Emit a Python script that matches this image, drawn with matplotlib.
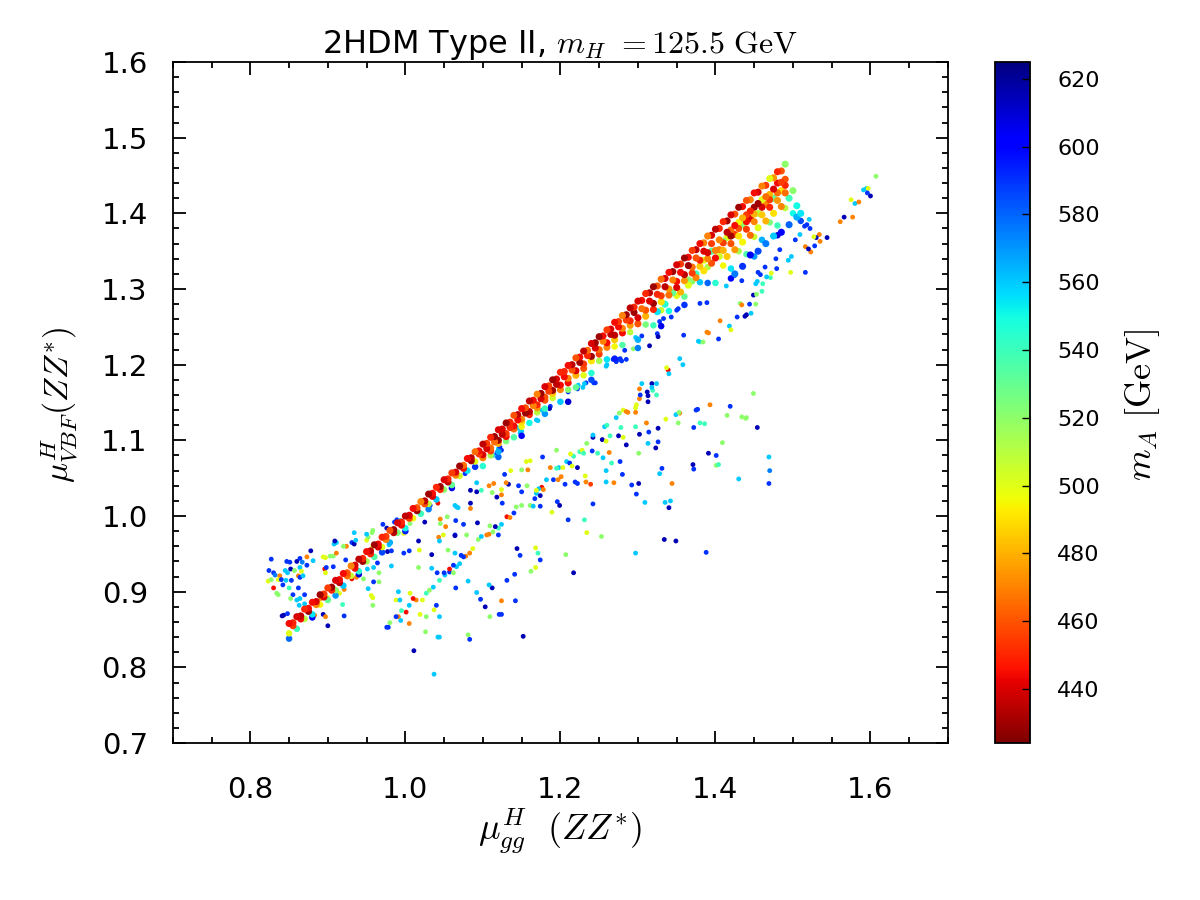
import numpy as np
import matplotlib
matplotlib.use("Agg")
import matplotlib.pyplot as plt
from matplotlib.ticker import MultipleLocator

plt.rcParams['mathtext.fontset'] = 'cm'
plt.rcParams['font.family'] = ['DejaVu Sans']

# ======================================
# 数据：主带（上沿红色 -> 下方蓝色），按行读图
# ======================================
rowA_x = [0.85, 0.86, 0.87, 0.88, 0.89, 0.90, 0.91, 0.92, 0.93, 0.94,
          0.95, 0.96, 0.97, 0.98, 0.99, 1.00, 1.01, 1.02, 1.03, 1.04,
          1.05, 1.06, 1.07, 1.08, 1.09, 1.10, 1.11, 1.12, 1.13, 1.14,
          1.15, 1.16, 1.17, 1.18, 1.19, 1.20, 1.21, 1.22, 1.23, 1.24,
          1.25, 1.26, 1.27, 1.28, 1.29, 1.30, 1.31, 1.32, 1.33, 1.34,
          1.35, 1.36, 1.37, 1.38, 1.39, 1.40, 1.41, 1.42, 1.43, 1.44,
          1.45, 1.46, 1.47, 1.48, 1.49]
rowA_y = [0.858, 0.867, 0.877, 0.886, 0.896, 0.905, 0.915, 0.924, 0.934, 0.943,
          0.953, 0.962, 0.972, 0.981, 0.991, 1.000, 1.010, 1.019, 1.029, 1.038,
          1.048, 1.057, 1.066, 1.076, 1.085, 1.095, 1.104, 1.114, 1.123, 1.133,
          1.142, 1.152, 1.161, 1.171, 1.180, 1.190, 1.199, 1.209, 1.218, 1.228,
          1.237, 1.246, 1.256, 1.265, 1.275, 1.284, 1.294, 1.303, 1.313, 1.322,
          1.332, 1.341, 1.351, 1.360, 1.370, 1.379, 1.389, 1.398, 1.408, 1.417,
          1.427, 1.436, 1.446, 1.455, 1.465]
rowA_m = [445, 440, 450, 445, 430, 455, 440, 445, 470, 435,
          445, 430, 450, 460, 440, 435, 445, 470, 430, 450,
          440, 455, 430, 445, 465, 435, 450, 440, 430, 460,
          445, 435, 470, 440, 430, 450, 445, 460, 435, 440,
          430, 455, 445, 470, 435, 440, 450, 430, 465, 445,
          440, 430, 455, 445, 470, 435, 450, 440, 430, 460,
          445, 470, 500, 450, 520]

rowA2_x = [0.855, 0.865, 0.875, 0.885, 0.895, 0.905, 0.915, 0.925, 0.935, 0.945,
           0.955, 0.965, 0.975, 0.985, 0.995, 1.005, 1.015, 1.025, 1.035, 1.045,
           1.055, 1.065, 1.075, 1.085, 1.095, 1.105, 1.115, 1.125, 1.135, 1.145,
           1.155, 1.165, 1.175, 1.185, 1.195, 1.205, 1.215, 1.225, 1.235, 1.245,
           1.255, 1.265, 1.275, 1.285, 1.295, 1.305, 1.315, 1.325, 1.335, 1.345,
           1.355, 1.365, 1.375, 1.385, 1.395, 1.405, 1.415, 1.425, 1.435, 1.445,
           1.455, 1.465, 1.475, 1.485]
rowA2_y = [0.859, 0.868, 0.878, 0.887, 0.897, 0.906, 0.916, 0.925, 0.935, 0.944,
           0.954, 0.963, 0.973, 0.982, 0.992, 1.001, 1.011, 1.020, 1.030, 1.039,
           1.049, 1.058, 1.067, 1.077, 1.086, 1.096, 1.105, 1.115, 1.124, 1.134,
           1.143, 1.153, 1.162, 1.172, 1.181, 1.191, 1.200, 1.210, 1.219, 1.229,
           1.238, 1.247, 1.257, 1.266, 1.276, 1.285, 1.295, 1.304, 1.314, 1.323,
           1.333, 1.342, 1.352, 1.361, 1.371, 1.380, 1.390, 1.399, 1.409, 1.418,
           1.428, 1.437, 1.447, 1.456]
rowA2_m = [450, 435, 445, 440, 455, 430, 445, 460, 440, 450,
           435, 445, 455, 430, 450, 440, 460, 435, 445, 430,
           450, 440, 465, 435, 445, 455, 430, 440, 450, 435,
           460, 445, 430, 455, 440, 450, 435, 445, 465, 430,
           445, 440, 455, 430, 450, 445, 435, 460, 440, 430,
           455, 445, 435, 470, 440, 450, 430, 460, 445, 470,
           440, 455, 475, 460]

rowB_x = [0.855, 0.865, 0.875, 0.885, 0.895, 0.905, 0.915, 0.925, 0.935, 0.945,
          0.955, 0.965, 0.975, 0.985, 0.995, 1.005, 1.015, 1.025, 1.035, 1.045,
          1.055, 1.065, 1.075, 1.085, 1.095, 1.105, 1.115, 1.125, 1.135, 1.145,
          1.155, 1.165, 1.175, 1.185, 1.195, 1.205, 1.215, 1.225, 1.235, 1.245,
          1.255, 1.265, 1.275, 1.285, 1.295, 1.305, 1.315, 1.325, 1.335, 1.345,
          1.355, 1.365, 1.375, 1.385, 1.395, 1.405, 1.415, 1.425, 1.435, 1.445,
          1.455, 1.465, 1.475, 1.485]
rowB_y = [0.855, 0.864, 0.874, 0.883, 0.893, 0.902, 0.912, 0.921, 0.931, 0.940,
          0.950, 0.959, 0.969, 0.978, 0.988, 0.997, 1.007, 1.016, 1.026, 1.035,
          1.045, 1.054, 1.063, 1.073, 1.082, 1.089, 1.098, 1.108, 1.117, 1.127,
          1.136, 1.146, 1.155, 1.165, 1.174, 1.184, 1.193, 1.203, 1.212, 1.222,
          1.231, 1.240, 1.250, 1.259, 1.269, 1.274, 1.284, 1.293, 1.303, 1.312,
          1.322, 1.331, 1.341, 1.350, 1.360, 1.365, 1.375, 1.384, 1.394, 1.403,
          1.413, 1.422, 1.432, 1.441]
rowB_m = [455, 445, 430, 470, 440, 450, 435, 465, 445, 430,
          450, 440, 470, 435, 445, 455, 430, 460, 440, 450,
          435, 470, 445, 430, 455, 440, 465, 435, 450, 445,
          430, 470, 440, 455, 435, 445, 460, 430, 450, 440,
          470, 435, 445, 455, 430, 465, 440, 450, 435, 470,
          445, 430, 460, 440, 455, 470, 435, 445, 480, 450,
          430, 465, 440, 455]

rowB2_x = [1.10, 1.11, 1.12, 1.13, 1.14, 1.15, 1.16, 1.17, 1.18, 1.19,
           1.20, 1.21, 1.22, 1.23, 1.24, 1.25, 1.26, 1.27, 1.28, 1.29,
           1.30, 1.31, 1.32, 1.33, 1.34, 1.35, 1.36, 1.37, 1.38, 1.39,
           1.40, 1.41, 1.42, 1.43, 1.44, 1.45, 1.46, 1.47, 1.48, 1.49]
rowB2_y = [1.081, 1.090, 1.100, 1.109, 1.119, 1.128, 1.138, 1.147, 1.157, 1.166,
           1.173, 1.182, 1.192, 1.201, 1.211, 1.220, 1.229, 1.239, 1.248, 1.258,
           1.262, 1.272, 1.281, 1.291, 1.300, 1.310, 1.319, 1.329, 1.338, 1.348,
           1.351, 1.361, 1.370, 1.380, 1.389, 1.399, 1.408, 1.418, 1.427, 1.437]
rowB2_m = [440, 465, 430, 455, 445, 470, 435, 450, 460, 430,
           445, 470, 440, 455, 430, 465, 445, 435, 470, 450,
           440, 460, 430, 455, 475, 445, 435, 465, 450, 440,
           470, 455, 430, 460, 445, 480, 440, 455, 465, 450]

rowC_x = [1.10, 1.11, 1.12, 1.13, 1.14, 1.15, 1.16, 1.17, 1.18, 1.19,
          1.20, 1.21, 1.22, 1.23, 1.24, 1.25, 1.26, 1.27, 1.28, 1.29,
          1.30, 1.31, 1.32, 1.33, 1.34, 1.35, 1.36, 1.37, 1.38, 1.39,
          1.40, 1.41, 1.42, 1.43, 1.44, 1.45, 1.46, 1.47, 1.48, 1.49]
rowC_y = [1.077, 1.086, 1.096, 1.105, 1.115, 1.124, 1.134, 1.143, 1.153, 1.162,
          1.167, 1.176, 1.186, 1.195, 1.205, 1.214, 1.223, 1.233, 1.242, 1.252,
          1.254, 1.264, 1.273, 1.283, 1.292, 1.302, 1.311, 1.321, 1.330, 1.340,
          1.341, 1.351, 1.360, 1.370, 1.379, 1.389, 1.398, 1.408, 1.417, 1.427]
rowC_m = [470, 455, 480, 445, 465, 490, 450, 475, 460, 485,
          470, 445, 480, 460, 490, 455, 470, 485, 445, 475,
          460, 480, 450, 490, 465, 440, 475, 455, 485, 470,
          445, 480, 460, 490, 455, 470, 485, 450, 475, 465]

rowC2_x = [1.355, 1.365, 1.375, 1.385, 1.395, 1.405, 1.415,
           1.425, 1.435, 1.445, 1.455, 1.465, 1.475, 1.485]
rowC2_y = [1.296, 1.305, 1.315, 1.324, 1.334, 1.343, 1.343,
           1.352, 1.362, 1.371, 1.381, 1.390, 1.400, 1.409]
rowC2_m = [480, 500, 470, 490, 460, 505, 485, 475, 495, 465, 500, 480, 490, 470]

rowD_x = [0.85, 0.87, 0.89, 0.91, 0.93, 0.95, 0.97, 0.99, 1.01, 1.03,
          1.05, 1.07, 1.09, 1.11, 1.13, 1.15, 1.17, 1.19, 1.21, 1.23,
          1.25, 1.27, 1.29, 1.31, 1.33, 1.35, 1.37, 1.39, 1.41, 1.43,
          1.45, 1.47, 1.49]
rowD_y = [0.845, 0.864, 0.883, 0.902, 0.921, 0.940, 0.959, 0.978, 0.997, 1.016,
          1.035, 1.053, 1.072, 1.080, 1.099, 1.118, 1.137, 1.156, 1.167, 1.186,
          1.205, 1.224, 1.243, 1.253, 1.272, 1.291, 1.310, 1.329, 1.331, 1.350,
          1.369, 1.388, 1.407]
rowD_m = [500, 510, 495, 520, 505, 515, 500, 525, 495, 510,
          520, 505, 500, 515, 525, 495, 510, 505, 520, 500,
          515, 495, 510, 525, 505, 500, 520, 510, 495, 515,
          505, 525, 510]

rowE_x = [0.86, 0.88, 0.90, 0.92, 0.94, 0.96, 0.98, 1.00, 1.02, 1.04,
          1.06, 1.08, 1.10, 1.12, 1.14, 1.16, 1.18, 1.20, 1.22, 1.24,
          1.26, 1.28, 1.30, 1.32, 1.34, 1.36, 1.38, 1.40, 1.42, 1.44,
          1.46, 1.48, 1.50]
rowE_y = [0.851, 0.870, 0.889, 0.908, 0.927, 0.946, 0.965, 0.984, 1.003, 1.022,
          1.041, 1.060, 1.066, 1.085, 1.104, 1.123, 1.142, 1.151, 1.170, 1.189,
          1.207, 1.226, 1.233, 1.252, 1.271, 1.290, 1.309, 1.308, 1.327, 1.346,
          1.365, 1.384, 1.400]
rowE_m = [540, 555, 530, 560, 545, 535, 565, 550, 540, 560,
          530, 555, 545, 565, 535, 550, 540, 560, 530, 545,
          555, 535, 565, 540, 550, 530, 560, 545, 555, 535,
          565, 540, 550]

rowF_x = [0.85, 0.88, 0.91, 0.94, 0.97, 1.00, 1.03, 1.06, 1.09, 1.12,
          1.15, 1.18, 1.21, 1.24, 1.27, 1.30, 1.33, 1.36, 1.39, 1.42,
          1.45, 1.48, 1.51]
rowF_y = [0.838, 0.866, 0.895, 0.923, 0.952, 0.980, 1.009, 1.037, 1.065, 1.078,
          1.106, 1.135, 1.151, 1.180, 1.208, 1.222, 1.251, 1.279, 1.308, 1.314,
          1.343, 1.371, 1.390]
rowF_m = [580, 600, 570, 610, 585, 595, 575, 605, 590, 580,
          600, 570, 610, 585, 595, 575, 605, 590, 580, 600,
          570, 610, 585]

# 主带右上角较宽区域 (x, y, m_A)
pts_wide = [(1.405, 1.352, 470), (1.415, 1.368, 500), (1.425, 1.372, 455), (1.435, 1.385, 520),
            (1.445, 1.393, 440), (1.455, 1.400, 510), (1.465, 1.412, 470), (1.475, 1.420, 530),
            (1.485, 1.430, 490), (1.495, 1.420, 540), (1.500, 1.430, 520), (1.505, 1.410, 550),
            (1.490, 1.445, 460), (1.480, 1.440, 445), (1.470, 1.425, 480), (1.460, 1.418, 500),
            (1.450, 1.408, 430), (1.440, 1.398, 455), (1.430, 1.388, 495), (1.420, 1.378, 465),
            (1.410, 1.363, 525), (1.395, 1.350, 535), (1.385, 1.338, 500), (1.375, 1.320, 540),
            (1.365, 1.312, 520), (1.345, 1.295, 530), (1.335, 1.280, 545), (1.325, 1.270, 555),
            (1.475, 1.370, 560), (1.465, 1.360, 575), (1.455, 1.350, 585), (1.445, 1.345, 600),
            (1.435, 1.330, 590), (1.425, 1.320, 575), (1.505, 1.395, 565), (1.510, 1.400, 555),
            (1.495, 1.385, 580), (1.485, 1.375, 600)]

# ======================================
# 数据：稀疏散点 (x, y, m_A)
# ======================================
pts_left = [(0.827, 0.943, 590), (0.847, 0.940, 590), (0.851, 0.939, 590), (0.860, 0.940, 615),
            (0.864, 0.944, 590), (0.867, 0.939, 575), (0.878, 0.954, 615), (0.873, 0.946, 470),
            (0.881, 0.941, 560), (0.824, 0.928, 590), (0.830, 0.925, 590), (0.832, 0.922, 575),
            (0.838, 0.921, 470), (0.845, 0.928, 560), (0.848, 0.925, 560), (0.852, 0.930, 615),
            (0.857, 0.928, 520), (0.864, 0.932, 560), (0.866, 0.927, 500), (0.873, 0.935, 590),
            (0.823, 0.914, 500), (0.827, 0.916, 520), (0.836, 0.916, 500), (0.840, 0.916, 590),
            (0.846, 0.915, 560), (0.853, 0.915, 590), (0.862, 0.921, 470), (0.864, 0.919, 590),
            (0.868, 0.921, 560), (0.830, 0.905, 445), (0.834, 0.898, 520), (0.836, 0.896, 520),
            (0.842, 0.909, 590), (0.850, 0.905, 540), (0.862, 0.905, 590), (0.855, 0.896, 590),
            (0.852, 0.891, 520), (0.860, 0.889, 560), (0.864, 0.891, 560), (0.870, 0.896, 590),
            (0.863, 0.882, 560), (0.870, 0.884, 560), (0.841, 0.868, 615), (0.843, 0.869, 615),
            (0.848, 0.871, 590), (0.894, 0.946, 500), (0.897, 0.945, 500), (0.903, 0.947, 520),
            (0.907, 0.947, 520), (0.911, 0.951, 470), (0.908, 0.963, 560), (0.911, 0.965, 560),
            (0.909, 0.967, 615), (0.924, 0.960, 470), (0.920, 0.960, 520), (0.923, 0.942, 590),
            (0.931, 0.965, 590), (0.934, 0.963, 615), (0.934, 0.978, 560), (0.936, 0.968, 560),
            (0.896, 0.930, 445), (0.897, 0.925, 500), (0.898, 0.932, 590), (0.907, 0.933, 590),
            (0.950, 0.968, 500), (0.952, 0.972, 520), (0.957, 0.978, 520), (0.958, 0.981, 520),
            (0.950, 0.976, 560), (0.971, 0.989, 590), (0.976, 0.984, 615), (0.986, 0.992, 590),
            (0.989, 0.995, 590), (0.993, 0.994, 560)]

pts_low = [(0.883, 0.869, 470), (0.894, 0.870, 615), (0.897, 0.867, 470), (0.900, 0.855, 615),
           (0.891, 0.891, 470), (0.894, 0.893, 500), (0.900, 0.892, 500), (0.911, 0.902, 470),
           (0.921, 0.903, 470), (0.915, 0.898, 500), (0.921, 0.868, 590), (0.919, 0.883, 540),
           (0.937, 0.919, 470), (0.931, 0.917, 445), (0.946, 0.917, 520), (0.958, 0.960, 500),
           (0.979, 0.962, 560), (0.977, 0.953, 615), (0.982, 0.954, 590), (0.998, 0.977, 500),
           (0.998, 0.951, 590), (1.005, 0.954, 590), (1.017, 0.967, 615), (1.018, 0.955, 500),
           (1.025, 0.992, 615), (1.045, 0.996, 470), (1.045, 0.990, 520), (1.052, 0.986, 470),
           (1.054, 0.999, 520), (1.064, 0.975, 590), (1.043, 0.972, 470), (1.044, 0.967, 560),
           (1.034, 0.949, 615), (0.982, 0.934, 560), (0.964, 0.938, 590), (0.959, 0.932, 560),
           (0.966, 0.925, 520), (0.951, 0.930, 560), (0.959, 0.913, 590), (0.966, 0.913, 520),
           (0.952, 0.904, 560), (0.956, 0.895, 500), (0.958, 0.892, 500), (0.958, 0.882, 520),
           (0.991, 0.900, 560), (0.988, 0.889, 500), (0.993, 0.889, 560), (1.006, 0.898, 500),
           (1.017, 0.932, 520), (1.034, 0.931, 560), (1.041, 0.925, 590), (1.014, 0.889, 470),
           (1.010, 0.891, 445), (1.022, 0.889, 500), (1.001, 0.873, 445), (0.991, 0.867, 470),
           (0.988, 0.867, 590), (0.994, 0.862, 560), (1.005, 0.858, 470), (0.980, 0.859, 520),
           (0.976, 0.853, 590), (0.978, 0.853, 590), (1.019, 0.870, 500), (1.027, 0.867, 520),
           (1.037, 0.876, 500), (1.040, 0.882, 590), (1.044, 0.867, 560), (1.026, 0.847, 520),
           (1.042, 0.840, 560), (1.011, 0.822, 615), (1.037, 0.791, 560), (1.006, 0.990, 520),
           (1.032, 1.014, 590), (1.042, 1.017, 445), (1.064, 1.014, 560), (1.066, 1.012, 560),
           (1.027, 0.898, 540), (1.031, 0.902, 520), (1.036, 0.906, 560), (1.051, 0.922, 560),
           (1.057, 0.926, 590), (1.066, 0.933, 560), (1.062, 0.925, 520), (0.995, 0.875, 540),
           (1.005, 0.882, 560)]

pts_mid = [(1.044, 0.915, 540), (1.049, 0.975, 500), (1.055, 0.955, 520), (1.064, 0.951, 560),
           (1.072, 0.948, 590), (1.078, 0.947, 470), (1.083, 0.951, 470), (1.087, 0.957, 500),
           (1.094, 0.969, 520), (1.098, 0.973, 560), (1.105, 0.975, 470), (1.108, 0.976, 470),
           (1.113, 0.979, 520), (1.120, 0.984, 540), (1.124, 0.989, 560), (1.131, 0.999, 445),
           (1.135, 0.998, 470), (1.140, 1.004, 590), (1.143, 1.012, 520), (1.150, 1.014, 520),
           (1.161, 1.014, 520), (1.165, 1.013, 560), (1.174, 1.013, 590), (1.057, 0.930, 445),
           (1.050, 0.925, 590), (1.062, 0.935, 590), (1.070, 0.937, 560), (1.075, 0.946, 590),
           (1.065, 0.994, 590), (1.075, 0.989, 590), (1.093, 0.991, 615), (1.064, 0.974, 615),
           (1.079, 0.975, 520), (1.109, 0.987, 520), (1.116, 0.986, 615), (1.120, 0.975, 590),
           (1.068, 1.011, 560), (1.084, 1.017, 615), (1.084, 1.010, 470), (1.092, 1.032, 615),
           (1.098, 1.034, 540), (1.084, 1.034, 615), (1.092, 1.044, 560), (1.108, 1.040, 470),
           (1.114, 1.043, 470), (1.124, 1.035, 500), (1.124, 1.028, 470), (1.118, 1.025, 615),
           (1.112, 1.031, 520), (1.125, 1.017, 590), (1.133, 1.042, 615), (1.130, 1.044, 470),
           (1.136, 1.060, 500), (1.146, 1.040, 590), (1.150, 1.032, 590), (1.157, 1.040, 520),
           (1.150, 1.061, 520), (1.158, 1.061, 470), (1.156, 1.072, 500), (1.161, 1.073, 500),
           (1.177, 1.078, 590), (1.128, 1.055, 590), (1.167, 1.023, 590), (1.169, 1.030, 560),
           (1.176, 1.038, 445), (1.178, 1.035, 470), (1.172, 1.036, 560), (1.174, 1.027, 615),
           (1.182, 1.048, 560), (1.169, 1.034, 500), (1.191, 1.048, 590), (1.197, 1.048, 470),
           (1.201, 1.052, 470), (1.206, 1.042, 590), (1.219, 1.045, 590), (1.222, 1.043, 590),
           (1.232, 1.053, 500), (1.233, 1.045, 470), (1.239, 1.042, 455), (1.196, 1.019, 590),
           (1.199, 1.014, 615), (1.189, 1.005, 500), (1.210, 0.995, 590), (1.231, 0.995, 540),
           (1.234, 0.978, 500), (1.253, 0.973, 520), (1.242, 1.016, 590), (1.217, 0.925, 615),
           (1.207, 0.949, 520), (1.174, 0.942, 590), (1.171, 0.951, 540), (1.168, 0.958, 500),
           (1.168, 0.932, 500), (1.162, 0.927, 520), (1.144, 0.957, 615), (1.148, 0.948, 590),
           (1.141, 0.923, 590), (1.131, 0.915, 590), (1.142, 0.888, 590), (1.124, 0.888, 470),
           (1.112, 0.905, 615), (1.108, 0.909, 560), (1.092, 0.899, 560), (1.097, 0.890, 590),
           (1.103, 0.880, 615), (1.109, 0.867, 520), (1.121, 0.870, 590), (1.124, 0.870, 590),
           (1.152, 0.841, 615), (1.081, 0.843, 520), (1.083, 0.837, 590), (1.065, 0.905, 590),
           (1.081, 0.914, 560), (1.044, 0.840, 560), (1.187, 1.064, 470), (1.195, 1.087, 520),
           (1.198, 1.064, 560), (1.203, 1.064, 500), (1.195, 1.063, 540), (1.208, 1.072, 560),
           (1.212, 1.070, 590), (1.215, 1.066, 500), (1.222, 1.064, 615), (1.217, 1.079, 540),
           (1.213, 1.082, 500), (1.225, 1.085, 540), (1.228, 1.087, 500), (1.230, 1.083, 540),
           (1.234, 1.096, 520), (1.241, 1.086, 590), (1.248, 1.083, 540), (1.255, 1.077, 560),
           (1.263, 1.084, 470), (1.259, 1.060, 560), (1.259, 1.045, 560), (1.269, 1.044, 470),
           (1.266, 1.070, 540), (1.277, 1.072, 590), (1.280, 1.055, 590), (1.292, 1.041, 590),
           (1.301, 1.043, 615), (1.298, 1.029, 590), (1.309, 1.018, 560), (1.297, 0.951, 560),
           (1.301, 1.083, 520), (1.285, 1.094, 615), (1.275, 1.106, 615), (1.281, 1.104, 500),
           (1.302, 1.108, 615), (1.314, 1.111, 590), (1.326, 1.116, 615), (1.326, 1.098, 590),
           (1.323, 1.090, 615), (1.313, 1.096, 560), (1.311, 1.123, 470), (1.297, 1.118, 540),
           (1.278, 1.117, 540), (1.257, 1.118, 560), (1.242, 1.104, 615), (1.242, 1.107, 560),
           (1.254, 1.101, 615), (1.259, 1.099, 500), (1.264, 1.106, 540), (1.260, 1.120, 540),
           (1.276, 1.136, 520), (1.281, 1.140, 500), (1.272, 1.130, 560), (1.287, 1.137, 470),
           (1.297, 1.137, 470), (1.297, 1.143, 500), (1.302, 1.155, 470), (1.303, 1.160, 590),
           (1.313, 1.159, 615), (1.313, 1.151, 615), (1.319, 1.166, 540), (1.324, 1.160, 540),
           (1.318, 1.175, 615), (1.285, 1.138, 470), (1.298, 1.147, 500)]

pts_hump = [(1.449, 1.162, 520), (1.393, 1.147, 470), (1.419, 1.145, 590), (1.377, 1.141, 590),
            (1.415, 1.133, 520), (1.434, 1.131, 520), (1.439, 1.129, 520), (1.354, 1.136, 470),
            (1.349, 1.134, 560), (1.336, 1.128, 500), (1.352, 1.123, 520), (1.372, 1.117, 590),
            (1.386, 1.122, 540), (1.454, 1.117, 615), (1.409, 1.097, 520), (1.391, 1.083, 615),
            (1.401, 1.080, 590), (1.401, 1.067, 520), (1.404, 1.068, 540), (1.371, 1.068, 615),
            (1.372, 1.062, 590), (1.469, 1.078, 560), (1.470, 1.060, 575), (1.469, 1.043, 590),
            (1.430, 1.049, 560), (1.331, 1.063, 590), (1.328, 1.056, 560), (1.344, 1.043, 470),
            (1.335, 1.018, 560), (1.342, 1.020, 560), (1.340, 1.011, 615), (1.334, 0.969, 615),
            (1.349, 0.967, 615), (1.388, 0.952, 590), (1.440, 1.130, 520), (1.380, 1.123, 540),
            (1.375, 1.140, 590), (1.353, 1.137, 520)]

pts_under = [(1.169, 1.127, 560), (1.187, 1.145, 590), (1.146, 1.116, 560), (1.150, 1.112, 560),
             (1.120, 1.089, 560), (1.118, 1.083, 590), (1.210, 1.164, 590), (1.223, 1.173, 560),
             (1.243, 1.176, 590), (1.233, 1.176, 590), (1.333, 1.261, 590), (1.325, 1.241, 590),
             (1.315, 1.225, 615), (1.283, 1.219, 590), (1.294, 1.221, 520), (1.297, 1.236, 560),
             (1.305, 1.238, 590), (1.275, 1.207, 590), (1.279, 1.205, 590), (1.285, 1.207, 590),
             (1.259, 1.198, 560), (1.245, 1.176, 590), (1.231, 1.175, 560), (1.229, 1.170, 560),
             (1.222, 1.168, 590), (1.186, 1.142, 615), (1.176, 1.140, 560), (1.171, 1.126, 560),
             (1.144, 1.117, 560), (1.148, 1.110, 560), (1.122, 1.091, 590), (1.124, 1.087, 590),
             (1.113, 1.080, 560), (1.077, 1.056, 590), (1.339, 1.193, 445), (1.337, 1.196, 500),
             (1.340, 1.188, 560), (1.305, 1.175, 560), (1.318, 1.170, 560), (1.324, 1.175, 560),
             (1.312, 1.164, 615), (1.302, 1.168, 470), (1.354, 1.208, 560), (1.358, 1.200, 560),
             (1.359, 1.239, 590), (1.380, 1.281, 590), (1.389, 1.282, 590), (1.350, 1.272, 590),
             (1.352, 1.274, 590), (1.343, 1.263, 590), (1.328, 1.257, 590), (1.326, 1.237, 615),
             (1.272, 1.204, 590), (1.277, 1.208, 590), (1.268, 1.207, 590), (1.260, 1.200, 560),
             (1.404, 1.234, 590), (1.391, 1.242, 470), (1.389, 1.243, 470), (1.380, 1.230, 540),
             (1.384, 1.230, 520), (1.378, 1.231, 560), (1.406, 1.258, 470), (1.418, 1.251, 560),
             (1.420, 1.246, 500), (1.428, 1.263, 590), (1.440, 1.266, 615), (1.438, 1.264, 615),
             (1.446, 1.268, 560), (1.432, 1.281, 520), (1.434, 1.279, 470), (1.444, 1.280, 590),
             (1.452, 1.280, 520), (1.449, 1.292, 615), (1.453, 1.293, 520), (1.460, 1.297, 540),
             (1.434, 1.311, 590), (1.425, 1.318, 590), (1.414, 1.304, 560), (1.452, 1.307, 560),
             (1.454, 1.310, 560), (1.461, 1.307, 540), (1.455, 1.322, 590), (1.458, 1.319, 590),
             (1.471, 1.315, 540), (1.472, 1.321, 500), (1.466, 1.316, 560), (1.479, 1.327, 590),
             (1.464, 1.329, 590), (1.483, 1.352, 590), (1.478, 1.340, 590), (1.498, 1.343, 560),
             (1.494, 1.338, 560), (1.497, 1.322, 500), (1.516, 1.322, 590)]

pts_tail = [(1.607, 1.449, 520), (1.591, 1.431, 560), (1.595, 1.433, 560), (1.597, 1.433, 500),
            (1.600, 1.423, 615), (1.596, 1.427, 590), (1.575, 1.418, 500), (1.580, 1.413, 560),
            (1.585, 1.415, 470), (1.561, 1.389, 470), (1.566, 1.395, 615), (1.577, 1.395, 470),
            (1.544, 1.368, 615), (1.534, 1.372, 470), (1.535, 1.363, 470), (1.530, 1.368, 615),
            (1.527, 1.369, 500), (1.523, 1.349, 470), (1.516, 1.356, 470), (1.528, 1.357, 590),
            (1.520, 1.353, 615), (1.521, 1.392, 560), (1.515, 1.383, 590), (1.518, 1.385, 590),
            (1.503, 1.365, 590), (1.522, 1.380, 590), (1.509, 1.372, 560)]

m_min, m_max = 424, 625
cbar_ticks = [440, 460, 480, 500, 520, 540, 560, 580, 600, 620]

# ======================================
# 作图
# ======================================
fig = plt.figure(figsize=(12, 9), dpi=100)
ax = fig.add_axes([0.144, 0.1744, 0.646, 0.7567])
cax = fig.add_axes([0.829, 0.1744, 0.029, 0.7567])

norm = plt.Normalize(m_min, m_max)
cmap = plt.get_cmap('jet_r')

# 稀疏散点先画
for pts in [pts_low, pts_left, pts_mid, pts_hump, pts_under, pts_tail]:
    arr = np.array(pts)
    ax.scatter(arr[:, 0], arr[:, 1], c=arr[:, 2], cmap=cmap, norm=norm,
               s=12, edgecolors='none')

# 主带：从下层（蓝）到上层（红）
for bx, by, bm in [(rowF_x, rowF_y, rowF_m), (rowE_x, rowE_y, rowE_m),
                   (rowD_x, rowD_y, rowD_m)]:
    ax.scatter(bx, by, c=bm, cmap=cmap, norm=norm, s=22, edgecolors='none')
arr = np.array(pts_wide)
ax.scatter(arr[:, 0], arr[:, 1], c=arr[:, 2], cmap=cmap, norm=norm, s=26, edgecolors='none')
for bx, by, bm in [(rowC2_x, rowC2_y, rowC2_m), (rowC_x, rowC_y, rowC_m),
                   (rowB2_x, rowB2_y, rowB2_m), (rowB_x, rowB_y, rowB_m),
                   (rowA2_x, rowA2_y, rowA2_m)]:
    ax.scatter(bx, by, c=bm, cmap=cmap, norm=norm, s=26, edgecolors='none')
sc = ax.scatter(rowA_x, rowA_y, c=rowA_m, cmap=cmap, norm=norm, s=26, edgecolors='none')

ax.set_xlim(0.7, 1.7)
ax.set_ylim(0.7, 1.6)
ax.xaxis.set_major_locator(MultipleLocator(0.2))
ax.xaxis.set_minor_locator(MultipleLocator(0.05))
ax.yaxis.set_major_locator(MultipleLocator(0.1))
ax.yaxis.set_minor_locator(MultipleLocator(0.02))
ax.tick_params(which='both', direction='in', top=True, right=True, width=1.3)
ax.tick_params(which='major', length=9)
ax.tick_params(which='minor', length=4.5)
ax.tick_params(axis='x', labelsize=21, pad=24)
ax.tick_params(axis='y', labelsize=21, pad=18)
for sp in ax.spines.values():
    sp.set_linewidth(1.3)

ax.set_title(r"2HDM Type II, $m_H$ $\mathrm{=125.5\ GeV}$", fontsize=23, pad=5)

fig.text(0.467, 0.077, r"$\mu^{H}_{gg}\ \ (ZZ^{*})$", fontsize=26, ha='center', va='center')
fig.text(0.049, 0.55, r"$\mu^{H}_{VBF}(ZZ^{*})$", fontsize=24, ha='center', va='center',
         rotation=90)

cb = fig.colorbar(sc, cax=cax, ticks=cbar_ticks)
cb.outline.set_linewidth(1.3)
cax.tick_params(direction='in', length=6, width=1.0, labelsize=16, pad=20)
fig.text(0.952, 0.55, r"$m_A\ [\mathrm{GeV}]$", fontsize=26, ha='center', va='center',
         rotation=90)

fig.savefig("out.png", dpi=100)
